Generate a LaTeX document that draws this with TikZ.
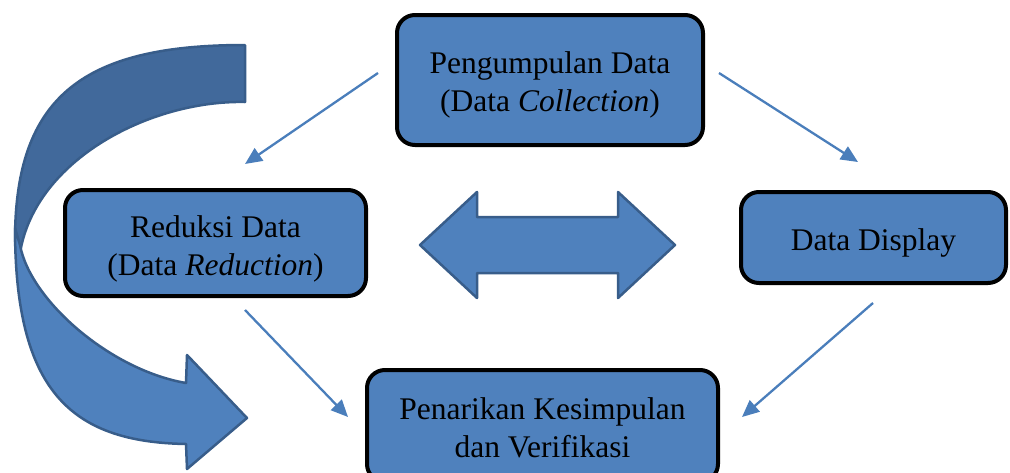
\documentclass[tikz,border=0pt]{standalone}
\usepackage{fontspec}
\setmainfont{Liberation Serif}
\usetikzlibrary{arrows.meta}

\definecolor{boxblue}{RGB}{79,129,189}
\definecolor{shapeedge}{RGB}{56,93,138}
\definecolor{backblue}{RGB}{65,105,155}
\definecolor{linkblue}{RGB}{74,126,187}

\begin{document}
\begin{tikzpicture}[x=1pt,y=-1pt,
  stage/.style={draw=black, line width=4pt, fill=boxblue, rounded corners=18pt,
    inner sep=0pt},
  stagetext/.style={align=center, inner sep=0pt, font=\fontsize{31.5}{38}\selectfont},
  link/.style={draw=linkblue, line width=2.3pt, -{Triangle[length=17pt,width=15pt]}},
  bigshape/.style={draw=shapeedge, line width=2.5pt, line join=round}]
\useasboundingbox (0,0) rectangle (1010,472);
\clip (0,0) rectangle (1010,472);

% curved return arrow: back (darker) half first, front half with the head on top
\path[bigshape, fill=backblue]
  (245,45) .. controls (85,45) and (15,95) .. (15,240) -- (17,255) -- (20,253)
  .. controls (35,160) and (150,100) .. (245,102) -- cycle;
\path[bigshape, fill=boxblue]
  (15,228) .. controls (15,390) and (70,442) .. (186,444)
  -- (187,469) -- (247,418) -- (187,355) -- (186,383)
  .. controls (110,370) and (30,300) .. (20,245) -- cycle;

% double-headed block arrow in the middle
\path[bigshape, fill=boxblue]
  (420,245) -- (477,192) -- (477,217) -- (618,217) -- (618,192) -- (675,245)
  -- (618,298) -- (618,273) -- (477,273) -- (477,298) -- cycle;

% stage boxes
\node[stage, minimum width=306pt, minimum height=130pt] (collect) at (550,80) {};
\node[stage, minimum width=301pt, minimum height=106pt] (reduce) at (215.5,243) {};
\node[stage, minimum width=265pt, minimum height=91pt] (display) at (873.5,237.5) {};
\node[stage, minimum width=351pt, minimum height=112pt] (conclude) at (542.5,426) {};

% stage captions
\node[stagetext] (collect-text) at ([yshift=-5pt]collect.center)
  {Pengumpulan Data\\(Data \textit{Collection})};
\node[stagetext] (reduce-text) at ([yshift=-6pt]reduce.center)
  {Reduksi Data\\(Data \textit{Reduction})};
\node[stagetext] (display-text) at ([yshift=-5pt]display.center)
  {Data Display};
\node[stagetext] (conclude-text) at ([yshift=-1.5pt]conclude.center)
  {Penarikan Kesimpulan\\dan Verifikasi};

% free-standing connector ends
\coordinate (c1s) at (378,73);  \coordinate (c1e) at (245,164);
\coordinate (c2s) at (719,73);  \coordinate (c2e) at (858,162);
\coordinate (c3s) at (245,310); \coordinate (c3e) at (348,417);
\coordinate (c4s) at (873,303); \coordinate (c4e) at (742,417);

\draw[link] (c1s) -- (c1e);
\draw[link] (c2s) -- (c2e);
\draw[link] (c3s) -- (c3e);
\draw[link] (c4s) -- (c4e);
\end{tikzpicture}
\end{document}
